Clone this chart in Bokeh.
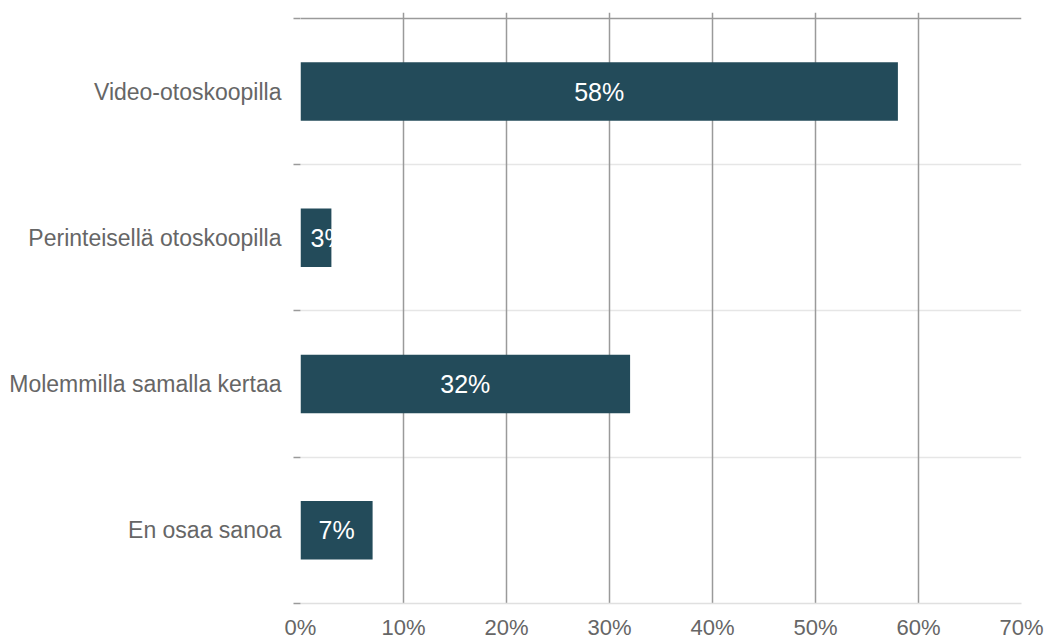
from bokeh.plotting import figure
from bokeh.models import FixedTicker, Span, ColumnDataSource, Range1d
from bokeh.core.properties import value
from bokeh.embed import file_html
from bokeh.resources import INLINE

categories = ["Video-otoskoopilla", "Perinteisellä otoskoopilla",
              "Molemmilla samalla kertaa", "En osaa sanoa"]
values = [58, 3, 32, 7]
x_ticks = [0, 10, 20, 30, 40, 50, 60, 70]
x_tick_labels = ["0%", "10%", "20%", "30%", "40%", "50%", "60%", "70%"]

FONT = "Liberation Sans"
n = len(categories)
ypos = [n - 1 - i for i in range(n)]
labels = [f"{v}%" for v in values]

# labels that fit are centred; very short bars get a left-padded label
fit = [v >= 5 for v in values]
src_bar = ColumnDataSource(dict(y=ypos, v=values))
src_c = ColumnDataSource(dict(
    y=[y for y, f in zip(ypos, fit) if f],
    x=[v / 2 for v, f in zip(values, fit) if f],
    lab=[l for l, f in zip(labels, fit) if f]))
src_l = ColumnDataSource(dict(
    y=[y for y, f in zip(ypos, fit) if not f],
    x=[0 for f in fit if not f],
    lab=[l for l, f in zip(labels, fit) if not f]))

band_px = 146.75
p = figure(width=1045, height=642, output_backend="svg", toolbar_location=None,
           x_range=Range1d(0, 70),
           y_range=Range1d(-0.5, n - 0.5 + 6 / band_px),
           min_border_left=300, min_border_right=24,
           min_border_top=12, min_border_bottom=37)
p.outline_line_color = None
p.background_fill_color = "white"
p.border_fill_color = "white"

p.hbar(y="y", right="v", left=0, height=0.4, source=src_bar,
       fill_color="#234b5a", line_color=None)
p.text(x="x", y="y", text="lab", source=src_c, text_color="white",
       text_align="center", text_baseline="middle",
       text_font=value(FONT), text_font_size="25px")
p.text(x="x", y="y", text="lab", source=src_l, text_color="white",
       text_align="left", text_baseline="middle", x_offset=10,
       text_font=value(FONT), text_font_size="25px")

# x axis
xa = p.xaxis[0]
xa.ticker = FixedTicker(ticks=x_ticks)
xa.major_label_overrides = {t: l for t, l in zip(x_ticks, x_tick_labels)}
xa.major_label_text_font = FONT
xa.major_label_text_font_size = "22px"
xa.major_label_text_color = "#666666"
xa.major_tick_line_color = None
xa.major_tick_out = 0
xa.major_tick_in = 0
xa.minor_tick_line_color = None
xa.axis_line_color = "#e0e0e0"
xa.axis_line_width = 1.5
xa.major_label_standoff = 11

# y axis
ya = p.yaxis[0]
ya.ticker = FixedTicker(ticks=ypos, minor_ticks=[-0.5 + i for i in range(n + 1)])
ya.major_label_overrides = {y: c for y, c in zip(ypos, categories)}
ya.major_label_text_font = FONT
ya.major_label_text_font_size = "23px"
ya.major_label_text_color = "#666666"
ya.major_tick_line_color = None
ya.major_tick_out = 0
ya.major_tick_in = 0
ya.minor_tick_in = 0
ya.minor_tick_out = 7
ya.minor_tick_line_color = "#9a9a9a"
ya.minor_tick_line_width = 1.5
ya.axis_line_color = None
ya.major_label_standoff = 12

# grids
p.xgrid.ticker = FixedTicker(ticks=x_ticks)
p.xgrid.grid_line_color = "#9a9a9a"
p.xgrid.grid_line_width = 1.5
p.ygrid.ticker = FixedTicker(ticks=[-0.5 + i for i in range(n)])
p.ygrid.grid_line_color = "#e6e6e6"
p.ygrid.grid_line_width = 1.5
xg, yg = p.xgrid[0], p.ygrid[0]
p.center = [yg, xg]

top = Span(location=n - 0.5, dimension="width", line_color="#9a9a9a",
           line_width=1.5, level="underlay")
p.add_layout(top)

open("out.html", "w").write(file_html(p, INLINE))
